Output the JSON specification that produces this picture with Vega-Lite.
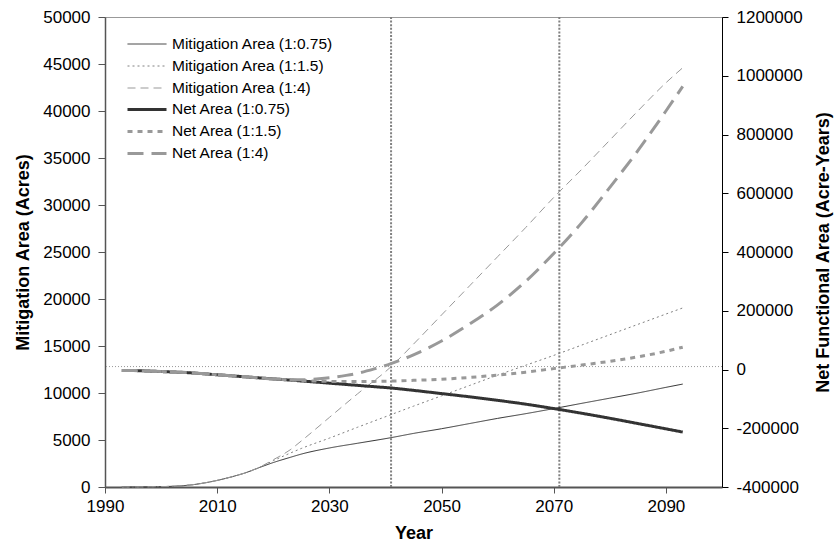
{
  "$schema": "https://vega.github.io/schema/vega-lite/v6.json",
  "width": 617,
  "height": 470,
  "autosize": "none",
  "padding": {"left": 105, "top": 17, "right": 112, "bottom": 67},
  "background": "white",
  "config": {
    "font": "Liberation Sans",
    "view": {"stroke": "#999999", "strokeWidth": 1},
    "axis": {
      "grid": false,
      "labelFont": "Liberation Sans",
      "labelFontSize": 17,
      "labelColor": "#000000",
      "labelFlush": false,
      "labelOverlap": false,
      "titleFont": "Liberation Sans",
      "titleFontSize": 18,
      "titleFontWeight": "bold",
      "titleColor": "#000000"
    },
    "legend": {
      "labelFont": "Liberation Sans",
      "labelFontSize": 15.5,
      "labelColor": "#000000",
      "labelLimit": 400
    }
  },
  "datasets": {
    "mitigation": [
      {"year": 1993, "series": "Mitigation Area (1:0.75)", "value": 0},
      {"year": 1995, "series": "Mitigation Area (1:0.75)", "value": 5},
      {"year": 2000, "series": "Mitigation Area (1:0.75)", "value": 40},
      {"year": 2005, "series": "Mitigation Area (1:0.75)", "value": 200},
      {"year": 2010, "series": "Mitigation Area (1:0.75)", "value": 700},
      {"year": 2013, "series": "Mitigation Area (1:0.75)", "value": 1150},
      {"year": 2015, "series": "Mitigation Area (1:0.75)", "value": 1500},
      {"year": 2017, "series": "Mitigation Area (1:0.75)", "value": 1950},
      {"year": 2020, "series": "Mitigation Area (1:0.75)", "value": 2600},
      {"year": 2023, "series": "Mitigation Area (1:0.75)", "value": 3150},
      {"year": 2025, "series": "Mitigation Area (1:0.75)", "value": 3500},
      {"year": 2030, "series": "Mitigation Area (1:0.75)", "value": 4150},
      {"year": 2035, "series": "Mitigation Area (1:0.75)", "value": 4650},
      {"year": 2041, "series": "Mitigation Area (1:0.75)", "value": 5250},
      {"year": 2045, "series": "Mitigation Area (1:0.75)", "value": 5700},
      {"year": 2050, "series": "Mitigation Area (1:0.75)", "value": 6200},
      {"year": 2055, "series": "Mitigation Area (1:0.75)", "value": 6750},
      {"year": 2060, "series": "Mitigation Area (1:0.75)", "value": 7300},
      {"year": 2065, "series": "Mitigation Area (1:0.75)", "value": 7800},
      {"year": 2070, "series": "Mitigation Area (1:0.75)", "value": 8340},
      {"year": 2075, "series": "Mitigation Area (1:0.75)", "value": 8900},
      {"year": 2080, "series": "Mitigation Area (1:0.75)", "value": 9450},
      {"year": 2085, "series": "Mitigation Area (1:0.75)", "value": 10000},
      {"year": 2090, "series": "Mitigation Area (1:0.75)", "value": 10600},
      {"year": 2093, "series": "Mitigation Area (1:0.75)", "value": 10950},

      {"year": 1993, "series": "Mitigation Area (1:1.5)", "value": 0},
      {"year": 1995, "series": "Mitigation Area (1:1.5)", "value": 5},
      {"year": 2000, "series": "Mitigation Area (1:1.5)", "value": 40},
      {"year": 2005, "series": "Mitigation Area (1:1.5)", "value": 200},
      {"year": 2010, "series": "Mitigation Area (1:1.5)", "value": 700},
      {"year": 2013, "series": "Mitigation Area (1:1.5)", "value": 1150},
      {"year": 2015, "series": "Mitigation Area (1:1.5)", "value": 1500},
      {"year": 2017, "series": "Mitigation Area (1:1.5)", "value": 1950},
      {"year": 2020, "series": "Mitigation Area (1:1.5)", "value": 2800},
      {"year": 2023, "series": "Mitigation Area (1:1.5)", "value": 3600},
      {"year": 2025, "series": "Mitigation Area (1:1.5)", "value": 4100},
      {"year": 2030, "series": "Mitigation Area (1:1.5)", "value": 5200},
      {"year": 2035, "series": "Mitigation Area (1:1.5)", "value": 6350},
      {"year": 2041, "series": "Mitigation Area (1:1.5)", "value": 7700},
      {"year": 2045, "series": "Mitigation Area (1:1.5)", "value": 8600},
      {"year": 2050, "series": "Mitigation Area (1:1.5)", "value": 9700},
      {"year": 2055, "series": "Mitigation Area (1:1.5)", "value": 10800},
      {"year": 2060, "series": "Mitigation Area (1:1.5)", "value": 11900},
      {"year": 2065, "series": "Mitigation Area (1:1.5)", "value": 12950},
      {"year": 2070, "series": "Mitigation Area (1:1.5)", "value": 14000},
      {"year": 2075, "series": "Mitigation Area (1:1.5)", "value": 15100},
      {"year": 2080, "series": "Mitigation Area (1:1.5)", "value": 16200},
      {"year": 2085, "series": "Mitigation Area (1:1.5)", "value": 17300},
      {"year": 2090, "series": "Mitigation Area (1:1.5)", "value": 18400},
      {"year": 2093, "series": "Mitigation Area (1:1.5)", "value": 19050},

      {"year": 1993, "series": "Mitigation Area (1:4)", "value": 0},
      {"year": 1995, "series": "Mitigation Area (1:4)", "value": 5},
      {"year": 2000, "series": "Mitigation Area (1:4)", "value": 40},
      {"year": 2005, "series": "Mitigation Area (1:4)", "value": 200},
      {"year": 2010, "series": "Mitigation Area (1:4)", "value": 700},
      {"year": 2013, "series": "Mitigation Area (1:4)", "value": 1150},
      {"year": 2015, "series": "Mitigation Area (1:4)", "value": 1500},
      {"year": 2017, "series": "Mitigation Area (1:4)", "value": 1950},
      {"year": 2020, "series": "Mitigation Area (1:4)", "value": 2900},
      {"year": 2023, "series": "Mitigation Area (1:4)", "value": 3950},
      {"year": 2025, "series": "Mitigation Area (1:4)", "value": 4900},
      {"year": 2030, "series": "Mitigation Area (1:4)", "value": 7400},
      {"year": 2035, "series": "Mitigation Area (1:4)", "value": 9900},
      {"year": 2041, "series": "Mitigation Area (1:4)", "value": 12800},
      {"year": 2045, "series": "Mitigation Area (1:4)", "value": 15200},
      {"year": 2050, "series": "Mitigation Area (1:4)", "value": 18300},
      {"year": 2055, "series": "Mitigation Area (1:4)", "value": 21400},
      {"year": 2060, "series": "Mitigation Area (1:4)", "value": 24500},
      {"year": 2065, "series": "Mitigation Area (1:4)", "value": 27600},
      {"year": 2070, "series": "Mitigation Area (1:4)", "value": 30800},
      {"year": 2075, "series": "Mitigation Area (1:4)", "value": 33800},
      {"year": 2080, "series": "Mitigation Area (1:4)", "value": 36900},
      {"year": 2085, "series": "Mitigation Area (1:4)", "value": 40000},
      {"year": 2090, "series": "Mitigation Area (1:4)", "value": 43000},
      {"year": 2093, "series": "Mitigation Area (1:4)", "value": 44600}
    ],
    "net": [
      {"year": 1993, "series": "Net Area (1:0.75)", "value": -3000},
      {"year": 1995, "series": "Net Area (1:0.75)", "value": -3500},
      {"year": 2000, "series": "Net Area (1:0.75)", "value": -7000},
      {"year": 2005, "series": "Net Area (1:0.75)", "value": -11000},
      {"year": 2010, "series": "Net Area (1:0.75)", "value": -18000},
      {"year": 2015, "series": "Net Area (1:0.75)", "value": -25000},
      {"year": 2020, "series": "Net Area (1:0.75)", "value": -32000},
      {"year": 2023, "series": "Net Area (1:0.75)", "value": -36000},
      {"year": 2025, "series": "Net Area (1:0.75)", "value": -39000},
      {"year": 2027, "series": "Net Area (1:0.75)", "value": -42000},
      {"year": 2030, "series": "Net Area (1:0.75)", "value": -46500},
      {"year": 2033, "series": "Net Area (1:0.75)", "value": -51000},
      {"year": 2035, "series": "Net Area (1:0.75)", "value": -54000},
      {"year": 2038, "series": "Net Area (1:0.75)", "value": -58500},
      {"year": 2041, "series": "Net Area (1:0.75)", "value": -63000},
      {"year": 2045, "series": "Net Area (1:0.75)", "value": -71000},
      {"year": 2050, "series": "Net Area (1:0.75)", "value": -82000},
      {"year": 2055, "series": "Net Area (1:0.75)", "value": -93000},
      {"year": 2060, "series": "Net Area (1:0.75)", "value": -105000},
      {"year": 2065, "series": "Net Area (1:0.75)", "value": -118000},
      {"year": 2070, "series": "Net Area (1:0.75)", "value": -133000},
      {"year": 2075, "series": "Net Area (1:0.75)", "value": -149000},
      {"year": 2080, "series": "Net Area (1:0.75)", "value": -166000},
      {"year": 2085, "series": "Net Area (1:0.75)", "value": -184000},
      {"year": 2090, "series": "Net Area (1:0.75)", "value": -202000},
      {"year": 2093, "series": "Net Area (1:0.75)", "value": -213000},

      {"year": 1993, "series": "Net Area (1:1.5)", "value": -3000},
      {"year": 1995, "series": "Net Area (1:1.5)", "value": -3500},
      {"year": 2000, "series": "Net Area (1:1.5)", "value": -7000},
      {"year": 2005, "series": "Net Area (1:1.5)", "value": -11000},
      {"year": 2010, "series": "Net Area (1:1.5)", "value": -18000},
      {"year": 2015, "series": "Net Area (1:1.5)", "value": -25000},
      {"year": 2020, "series": "Net Area (1:1.5)", "value": -32000},
      {"year": 2023, "series": "Net Area (1:1.5)", "value": -35500},
      {"year": 2025, "series": "Net Area (1:1.5)", "value": -37500},
      {"year": 2027, "series": "Net Area (1:1.5)", "value": -39000},
      {"year": 2030, "series": "Net Area (1:1.5)", "value": -40500},
      {"year": 2033, "series": "Net Area (1:1.5)", "value": -41000},
      {"year": 2035, "series": "Net Area (1:1.5)", "value": -41000},
      {"year": 2038, "series": "Net Area (1:1.5)", "value": -40500},
      {"year": 2041, "series": "Net Area (1:1.5)", "value": -39500},
      {"year": 2045, "series": "Net Area (1:1.5)", "value": -37000},
      {"year": 2050, "series": "Net Area (1:1.5)", "value": -33000},
      {"year": 2055, "series": "Net Area (1:1.5)", "value": -27000},
      {"year": 2060, "series": "Net Area (1:1.5)", "value": -19000},
      {"year": 2065, "series": "Net Area (1:1.5)", "value": -9000},
      {"year": 2070, "series": "Net Area (1:1.5)", "value": 3000},
      {"year": 2075, "series": "Net Area (1:1.5)", "value": 15000},
      {"year": 2080, "series": "Net Area (1:1.5)", "value": 28000},
      {"year": 2085, "series": "Net Area (1:1.5)", "value": 43000},
      {"year": 2090, "series": "Net Area (1:1.5)", "value": 62000},
      {"year": 2093, "series": "Net Area (1:1.5)", "value": 76000},

      {"year": 1993, "series": "Net Area (1:4)", "value": -3000},
      {"year": 1995, "series": "Net Area (1:4)", "value": -3500},
      {"year": 2000, "series": "Net Area (1:4)", "value": -7000},
      {"year": 2005, "series": "Net Area (1:4)", "value": -11000},
      {"year": 2010, "series": "Net Area (1:4)", "value": -18000},
      {"year": 2015, "series": "Net Area (1:4)", "value": -25000},
      {"year": 2020, "series": "Net Area (1:4)", "value": -32000},
      {"year": 2023, "series": "Net Area (1:4)", "value": -34500},
      {"year": 2025, "series": "Net Area (1:4)", "value": -35000},
      {"year": 2027, "series": "Net Area (1:4)", "value": -33000},
      {"year": 2030, "series": "Net Area (1:4)", "value": -28000},
      {"year": 2033, "series": "Net Area (1:4)", "value": -20000},
      {"year": 2035, "series": "Net Area (1:4)", "value": -13000},
      {"year": 2038, "series": "Net Area (1:4)", "value": 2000},
      {"year": 2041, "series": "Net Area (1:4)", "value": 20000},
      {"year": 2045, "series": "Net Area (1:4)", "value": 50000},
      {"year": 2050, "series": "Net Area (1:4)", "value": 97000},
      {"year": 2055, "series": "Net Area (1:4)", "value": 155000},
      {"year": 2060, "series": "Net Area (1:4)", "value": 220000},
      {"year": 2065, "series": "Net Area (1:4)", "value": 300000},
      {"year": 2070, "series": "Net Area (1:4)", "value": 395000},
      {"year": 2075, "series": "Net Area (1:4)", "value": 500000},
      {"year": 2080, "series": "Net Area (1:4)", "value": 620000},
      {"year": 2085, "series": "Net Area (1:4)", "value": 745000},
      {"year": 2090, "series": "Net Area (1:4)", "value": 880000},
      {"year": 2093, "series": "Net Area (1:4)", "value": 964000}
    ],
    "vlines": [{"year": 2041}, {"year": 2071}],
    "hline": [{"value": 10000}]
  },
  "layer": [
    {
      "layer": [
        {
          "data": {"name": "vlines"},
          "mark": {"type": "rule", "color": "#808080", "strokeWidth": 2, "strokeDash": [2, 1.6]},
          "encoding": {
            "x": {"field": "year", "type": "quantitative", "scale": {"domain": [1990, 2100], "nice": false}}
          }
        },
        {
          "data": {"name": "mitigation"},
          "mark": {"type": "line", "interpolate": "monotone", "strokeCap": "butt", "strokeWidth": 1},
          "encoding": {
            "x": {
              "field": "year", "type": "quantitative",
              "scale": {"domain": [1990, 2100], "nice": false, "zero": false},
              "axis": {
                "orient": "bottom", "values": [1990, 2010, 2030, 2050, 2070, 2090], "format": "d",
                "title": "Year", "domainColor": "#555555", "domainWidth": 2, "tickColor": "#555555",
                "tickSize": 6, "labelPadding": 5, "titleY": 46, "titleBaseline": "middle"
              }
            },
            "y": {
              "field": "value", "type": "quantitative",
              "scale": {"domain": [0, 50000], "nice": false},
              "axis": {
                "orient": "left", "title": "Mitigation Area (Acres)", "values": [0, 5000, 10000, 15000, 20000, 25000, 30000, 35000, 40000, 45000, 50000],
                "format": "d", "domainColor": "#555555", "domainWidth": 1.5, "tickColor": "#555555",
                "tickSize": 7, "labelPadding": 8, "titleX": -82, "titleY": 235, "titleAngle": -90,
                "titleAlign": "center", "titleBaseline": "middle"
              }
            },
            "color": {
              "field": "series", "type": "nominal",
              "scale": {
                "domain": ["Mitigation Area (1:0.75)", "Mitigation Area (1:1.5)", "Mitigation Area (1:4)"],
                "range": ["#333333", "#808080", "#999999"]
              },
              "legend": {
                "orient": "none", "legendX": 22, "legendY": 19, "title": null, "symbolType": "stroke",
                "symbolSize": 1521, "clipHeight": 16, "rowPadding": 5, "labelOffset": 5, "padding": 0,
                "symbolStrokeWidth": 1
              }
            },
            "strokeDash": {
              "field": "series", "type": "nominal",
              "scale": {
                "domain": ["Mitigation Area (1:0.75)", "Mitigation Area (1:1.5)", "Mitigation Area (1:4)"],
                "range": [[1, 0], [2, 3], [8, 5]]
              }
            }
          }
        }
      ]
    },
    {
      "layer": [
        {
          "data": {"name": "hline"},
          "mark": {"type": "rule", "color": "#999999", "strokeWidth": 1, "strokeDash": [1, 2]},
          "encoding": {
            "y": {"field": "value", "type": "quantitative"}
          }
        },
        {
          "data": {"name": "net"},
          "mark": {"type": "line", "interpolate": "monotone", "strokeCap": "butt", "strokeWidth": 3},
          "encoding": {
            "x": {"field": "year", "type": "quantitative", "scale": {"domain": [1990, 2100], "nice": false, "zero": false}},
            "y": {
              "field": "value", "type": "quantitative",
              "scale": {"domain": [-400000, 1200000], "nice": false},
              "axis": {
                "orient": "right", "title": "Net Functional Area (Acre-Years)",
                "values": [-400000, -200000, 0, 200000, 400000, 600000, 800000, 1000000, 1200000],
                "format": "d", "labelExpr": "replace(datum.label, '\u2212', '-')",
                "domainColor": "#000000", "domainWidth": 1, "tickColor": "#000000",
                "tickSize": 6, "labelPadding": 8, "titleX": 101, "titleY": 235, "titleAngle": 270,
                "titleAlign": "center", "titleBaseline": "middle"
              }
            },
            "color": {
              "field": "series", "type": "nominal",
              "scale": {
                "domain": ["Net Area (1:0.75)", "Net Area (1:1.5)", "Net Area (1:4)"],
                "range": ["#333333", "#999999", "#999999"]
              },
              "legend": {
                "orient": "none", "legendX": 21, "legendY": 84.4, "title": null, "symbolType": "stroke",
                "symbolSize": 1521, "clipHeight": 16, "rowPadding": 5, "labelOffset": 4, "padding": 0,
                "symbolStrokeWidth": 3
              }
            },
            "strokeDash": {
              "field": "series", "type": "nominal",
              "scale": {
                "domain": ["Net Area (1:0.75)", "Net Area (1:1.5)", "Net Area (1:4)"],
                "range": [[1, 0], [5, 5], [16, 8]]
              }
            }
          }
        }
      ]
    }
  ],
  "resolve": {"scale": {"y": "independent", "color": "independent", "strokeDash": "independent"}}
}
